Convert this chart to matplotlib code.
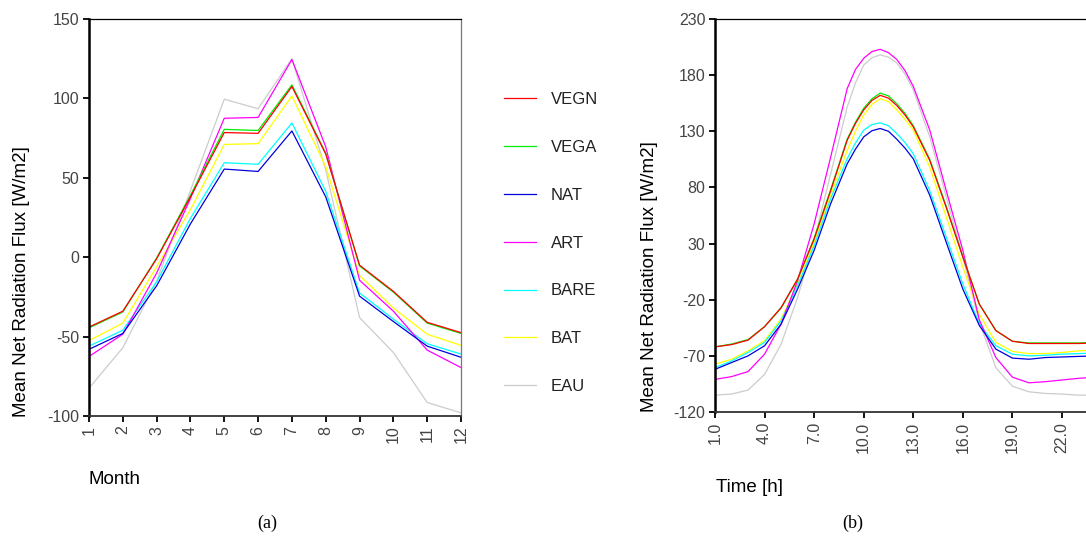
import matplotlib
matplotlib.use('Agg')
import matplotlib.pyplot as plt

plt.rcParams['font.family'] = ['Liberation Sans', 'DejaVu Sans']
plt.rcParams['axes.unicode_minus'] = False

# ---- data: (a) monthly means ----
months = list(range(1, 13))
month_vegn = [-44, -34, -1, 38, 78.5, 78, 107.5, 65, -5, -21.5, -41, -47.5]
month_vega = [-44.5, -34.5, -0.5, 39, 80.5, 79.8, 108.5, 65.5, -5.5, -22, -41.5, -48]
month_nat = [-58, -48, -18, 21, 55.5, 54, 79.5, 38, -24.5, -40.5, -56, -63]
month_art = [-62.5, -48.5, -10, 37, 87.5, 88, 124.5, 69.5, -14.5, -34, -58.5, -69.5]
month_bare = [-56, -46, -15.5, 24.5, 59.5, 58.5, 84.5, 41.5, -22.5, -39, -54.5, -61]
month_bat = [-52.5, -41.5, -6, 30, 71, 71.5, 101.5, 57, -11.5, -32, -48.5, -55.5]
month_eau = [-82.5, -57, -15, 42, 99.5, 93.5, 125, 55, -38, -60, -91.5, -98]

# ---- data: (b) mean daily cycle (half hours read around the peak) ----
hours = [1, 2, 3, 4, 5, 6, 7, 8, 9, 9.5, 10, 10.5, 11, 11.5, 12, 12.5,
         13, 14, 15, 16, 17, 18, 19, 20, 21, 22, 23, 24]
hour_vegn = [-62, -60, -56, -44, -27, -1.5, 34, 77, 122, 137, 149, 157.5, 162, 159.5, 153, 144.5,
             134, 104, 62, 18, -24, -47.5, -57, -59, -59, -59, -59, -58.5]
hour_vega = [-62, -59.5, -55.5, -44, -27.5, -2, 35, 78, 123, 138, 150.5, 159, 164, 161.5, 154.5, 146,
             135, 105, 63, 18.5, -24, -47.5, -57, -58.5, -58.5, -58.5, -58.5, -58]
hour_nat = [-82, -76, -70, -61, -41.7, -10.5, 24, 65.5, 101, 114, 125, 130.5, 132.5, 130, 123, 115,
            105.5, 73, 31, -10.5, -43, -64, -72, -73, -71.5, -71, -70.5, -70]
hour_art = [-91, -88.5, -84, -68.5, -41.7, -3, 47.5, 107, 168, 185, 195, 201, 203, 200, 194, 184,
            170, 131, 77, 24, -38, -71.5, -89, -94, -93, -91.5, -90, -89]
hour_bare = [-80.5, -74.5, -67, -58, -38.7, -7.5, 28, 70, 105.5, 119.5, 131, 136, 137.5, 135, 128, 120,
             110, 77, 35.5, -6, -41.5, -61, -68.5, -70, -69.5, -68.5, -68, -67.5]
hour_bat = [-77.5, -73, -65.5, -56.5, -37, -6, 31, 73, 113, 130, 144.5, 154, 159, 156.5, 149, 140.5,
            131, 98, 53.5, 9, -33, -58, -66, -68, -68, -67, -65.5, -65]
hour_eau = [-105, -104, -100.5, -86.5, -59.5, -18, 32.5, 92, 151.5, 173, 189, 195.5, 198, 196, 191, 181,
            167, 125, 71.5, 18, -40, -80.5, -97, -102, -103.5, -104, -105, -105]

names = ['VEGN', 'VEGA', 'NAT', 'ART', 'BARE', 'BAT', 'EAU']
colors = {'VEGN': '#ff0000', 'VEGA': '#00ee00', 'NAT': '#0000dd', 'ART': '#ff00ff',
          'BARE': '#00ffff', 'BAT': '#ffff00', 'EAU': '#cccccc'}
draw_order = ['EAU', 'BAT', 'BARE', 'ART', 'NAT', 'VEGA', 'VEGN']

month_series = {'VEGN': month_vegn, 'VEGA': month_vega, 'NAT': month_nat, 'ART': month_art,
                'BARE': month_bare, 'BAT': month_bat, 'EAU': month_eau}
hour_series = {'VEGN': hour_vegn, 'VEGA': hour_vega, 'NAT': hour_nat, 'ART': hour_art,
               'BARE': hour_bare, 'BAT': hour_bat, 'EAU': hour_eau}

fig = plt.figure(figsize=(10.86, 5.38), dpi=100)
ax1 = fig.add_axes([89 / 1086, 1 - 416 / 538, (461 - 89) / 1086, (416 - 19) / 538])
ax2 = fig.add_axes([715 / 1086, 1 - 412 / 538, (1095 - 715) / 1086, (412 - 19) / 538])


def style_axes(ax):
    ax.spines['left'].set_linewidth(1.8)
    ax.spines['left'].set_color('black')
    ax.spines['bottom'].set_linewidth(1.3)
    ax.spines['bottom'].set_color('#333333')
    ax.spines['top'].set_linewidth(0.9)
    ax.spines['top'].set_color('black')
    ax.spines['right'].set_linewidth(0.9)
    ax.spines['right'].set_color('#777777')
    ax.tick_params(axis='both', direction='out', length=4, width=1.3,
                   labelsize=11.5, labelcolor='#444444', color='black', pad=3)
    ax.tick_params(axis='x', labelrotation=90)


handles = {}
for name in draw_order:
    (ln,) = ax1.plot(months, month_series[name], color=colors[name], lw=0.9, label=name)
    handles[name] = ln
    ax2.plot(hours, hour_series[name], color=colors[name], lw=0.9)

ax1.set_xlim(1, 12)
ax1.set_ylim(-100, 150)
ax1.set_xticks(months)
ax1.set_yticks([-100, -50, 0, 50, 100, 150])
style_axes(ax1)

ax2.set_xlim(1, 24)
ax2.set_ylim(-120, 230)
ax2.set_xticks([1, 4, 7, 10, 13, 16, 19, 22])
ax2.set_xticklabels(['%.1f' % v for v in [1, 4, 7, 10, 13, 16, 19, 22]])
ax2.set_yticks([-120, -70, -20, 30, 80, 130, 180, 230])
style_axes(ax2)

# axis titles placed as in the source layout
ylab = 'Mean Net Radiation Flux [W/m2]'
fig.text(22 / 1086, 1 - 417 / 538, ylab, rotation=90, ha='center', va='bottom', fontsize=13.5)
fig.text(650 / 1086, 1 - 412 / 538, ylab, rotation=90, ha='center', va='bottom', fontsize=13.5)
fig.text(89 / 1086, 1 - 479 / 538, 'Month', ha='left', va='center', fontsize=13.5)
fig.text(716 / 1086, 1 - 487 / 538, 'Time [h]', ha='left', va='center', fontsize=13.5)
fig.text(267 / 1086, 1 - 523 / 538, '(a)', ha='center', va='center', fontsize=13,
         family=['Liberation Serif', 'DejaVu Serif'])
fig.text(853 / 1086, 1 - 523 / 538, '(b)', ha='center', va='center', fontsize=13,
         family=['Liberation Serif', 'DejaVu Serif'])

leg = fig.legend([handles[n] for n in names], names, loc='center left',
                 bbox_to_anchor=(504 / 1086, 1 - 243 / 538), frameon=False,
                 fontsize=12, handlelength=1.9, handletextpad=0.9,
                 labelspacing=1.97, borderpad=0, borderaxespad=0)
for t in leg.get_texts():
    t.set_color('#222222')

fig.savefig('out.png', dpi=100)
